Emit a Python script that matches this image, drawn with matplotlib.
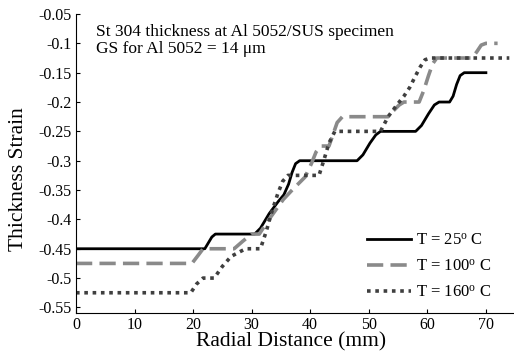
import numpy as np
import matplotlib
matplotlib.use('Agg')
import matplotlib.pyplot as plt

font = {'size': 11.5, 'family': 'Liberation Serif'}
matplotlib.rc('font', **font)
matplotlib.rc('mathtext', fontset='custom', rm='Liberation Serif', it='Liberation Serif:italic')

# T = 25 C
x25 = [0, 22.0, 22.6, 23.2, 23.8, 30.5, 31.5, 33.0, 34.5, 35.5, 36.3, 36.9, 37.5, 38.2,
       48.0, 49.0, 50.2, 51.2, 52.0, 58.0, 59.0, 60.2, 61.2, 62.0, 63.8, 64.4, 65.0,
       65.6, 66.3, 70.0]
y25 = [-0.45, -0.45, -0.44, -0.43, -0.425, -0.425, -0.415, -0.39, -0.37, -0.358, -0.34,
       -0.32, -0.305, -0.3, -0.3, -0.29, -0.27, -0.256, -0.25, -0.25, -0.24, -0.22,
       -0.205, -0.2, -0.2, -0.19, -0.17, -0.155, -0.15, -0.15]

# T = 100 C
x100 = [0, 19.8, 20.8, 21.7, 27.0, 28.5, 30.0, 31.3, 32.6, 35.4, 37.1, 39.1, 40.2,
        41.0, 41.8, 43.2, 43.9, 44.6, 45.5, 53.3, 54.2, 55.2, 56.0, 58.6, 59.4, 60.2,
        60.9, 61.6, 67.6, 68.4, 69.2, 70.0, 72.0]
y100 = [-0.475, -0.475, -0.462, -0.45, -0.45, -0.437, -0.425, -0.425, -0.405, -0.366,
        -0.348, -0.328, -0.305, -0.285, -0.275, -0.275, -0.255, -0.235, -0.225, -0.225,
        -0.215, -0.205, -0.2, -0.2, -0.18, -0.155, -0.135, -0.125, -0.125, -0.115,
        -0.103, -0.1, -0.1]

# T = 160 C
x160 = [0, 19.6, 20.6, 21.7, 23.6, 25.0, 26.5, 28.0, 29.0, 31.5, 32.5, 33.5, 34.5,
        35.3, 36.2, 41.5, 42.3, 43.2, 44.2, 52.0, 53.3, 54.8, 56.0, 57.0, 58.0, 58.8,
        59.6, 60.5, 74.0]
y160 = [-0.525, -0.525, -0.51, -0.5, -0.5, -0.48, -0.463, -0.455, -0.45, -0.45, -0.42,
        -0.385, -0.355, -0.335, -0.325, -0.325, -0.3, -0.27, -0.25, -0.25, -0.225,
        -0.205, -0.19, -0.175, -0.155, -0.14, -0.128, -0.125, -0.125]

xticks = [0, 10, 20, 30, 40, 50, 60, 70]
yticks = [-0.55, -0.5, -0.45, -0.4, -0.35, -0.3, -0.25, -0.2, -0.15, -0.1, -0.05]
ytlabels = ['-0.55', '-0.5', '-0.45', '-0.4', '-0.35', '-0.3', '-0.25', '-0.2',
            '-0.15', '-0.1', '-0.05']
labels = [r'T = 25$^{\mathrm{o}}$ C', r'T = 100$^{\mathrm{o}}$ C', r'T = 160$^{\mathrm{o}}$ C']

fig = plt.figure(figsize=(5.14, 3.53), dpi=100)
ax = fig.add_axes([76/514., 39.7/353., 438/514., 299.3/353.])

ax.plot(x25, y25, '-', color='black', lw=2.0, label=labels[0])
ax.plot(x100, y100, '--', color='#8a8a8a', lw=2.6, dashes=(4.5, 2.0), label=labels[1])
ax.plot(x160, y160, ':', color='#3f3f3f', lw=2.6, dashes=(1.0, 1.3),
        dash_capstyle='butt', label=labels[2])

ax.set_xlim([0, 74.8])
ax.set_ylim([-0.56, -0.05])
ax.set_xticks(xticks)
ax.set_yticks(yticks)
ax.set_yticklabels(ytlabels)
ax.tick_params(direction='in', length=3, width=0.8, pad=3)
ax.spines['top'].set_visible(False)
ax.spines['right'].set_visible(False)

ax.set_xlabel('Radial Distance (mm)', fontsize=15.5)
ax.set_ylabel('Thickness Strain', fontsize=15.5)
ax.xaxis.set_label_coords(0.49, -0.064)
ax.yaxis.set_label_coords(-0.11, 0.449)

ax.text(0.046, 0.927, 'St 304 thickness at Al 5052/SUS specimen', transform=ax.transAxes,
        fontsize=12.5)
ax.text(0.046, 0.869, u'GS for Al 5052 = 14 \u03bcm', transform=ax.transAxes, fontsize=12.5)

ax.legend(loc='upper left', bbox_to_anchor=(0.665, 0.27), frameon=False, borderpad=0,
          borderaxespad=0, handlelength=2.65, handletextpad=0.3, labelspacing=0.6,
          fontsize=12)

plt.savefig('out.png', dpi=100)
